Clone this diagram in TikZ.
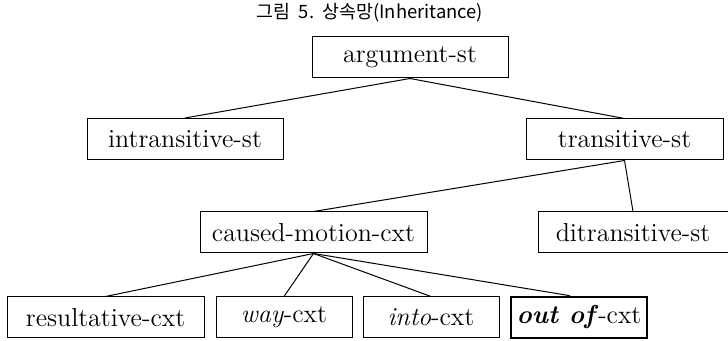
\documentclass[tikz,border=0pt]{standalone}
\usepackage{fontspec}
\newfontfamily\krfont{Noto Sans CJK KR}
\usetikzlibrary{positioning}

\begin{document}
\begin{tikzpicture}[
                x=0.5pt,y=-0.5pt,
                line width=0.5pt,
                box/.style={draw,align=center,text=black,inner sep=0pt,
                  minimum height=20.5pt,font=\fontsize{13}{15}\selectfont},
                link/.style={line width=0.5pt}] %

\useasboundingbox (0,0) rectangle (728,341);

                    % title
                    \node[font=\krfont\fontsize{9.2}{11}\selectfont] (TTL) at (370,13) {그림\ \ 5.\ \ 상속망(Inheritance)};

                    % 1
                    \node[box,minimum width=98pt] (ARG) at (410,57.5) {argument-st}; % 1

                    % 2
                    \node[box,minimum width=98pt] (INTR) at (185,139) {intransitive-st}; % 2
                    \node[box,minimum width=98.5pt] (TRAN) at (624.5,139.5) {transitive-st}; % 2

                    % 3
                    \node[box,minimum width=113.5pt] (CMOT) at (313.5,232.5) {caused-motion-cxt}; % 3
                    \node[box,minimum width=95pt] (DITR) at (633,232.5) {ditransitive-st}; % 3

                    % 4
                    \node[box,minimum width=98.5pt] (RES) at (105.5,317.5) {resultative-cxt}; % 4
                    \node[box,minimum width=68pt] (WAY) at (284,317.5) {\textit{way}-cxt}; % 4
                    \node[box,minimum width=68pt] (INTO) at (431,317.5) {\textit{into}-cxt}; % 4
                    \node[box,minimum width=68pt,line width=1.3pt] (OUT) at (579,317.5) {\textit{\textbf{out of}}-cxt}; % 4

                    \path [link] (ARG.south) edge (INTR.north);
                    \path [link] (ARG.south) edge (TRAN.north);

                    \path [link] (TRAN.south) edge (CMOT.north);
                    \path [link] (TRAN.south) edge (DITR.north);

                    \path [link] (CMOT.south) edge (RES.north);
                    \path [link] (CMOT.south) edge (WAY.north);
                    \path [link] (CMOT.south) edge (INTO.north);
                    \path [link] (CMOT.south) edge ([xshift=-4.5pt]OUT.north);

\end{tikzpicture}
\end{document}
